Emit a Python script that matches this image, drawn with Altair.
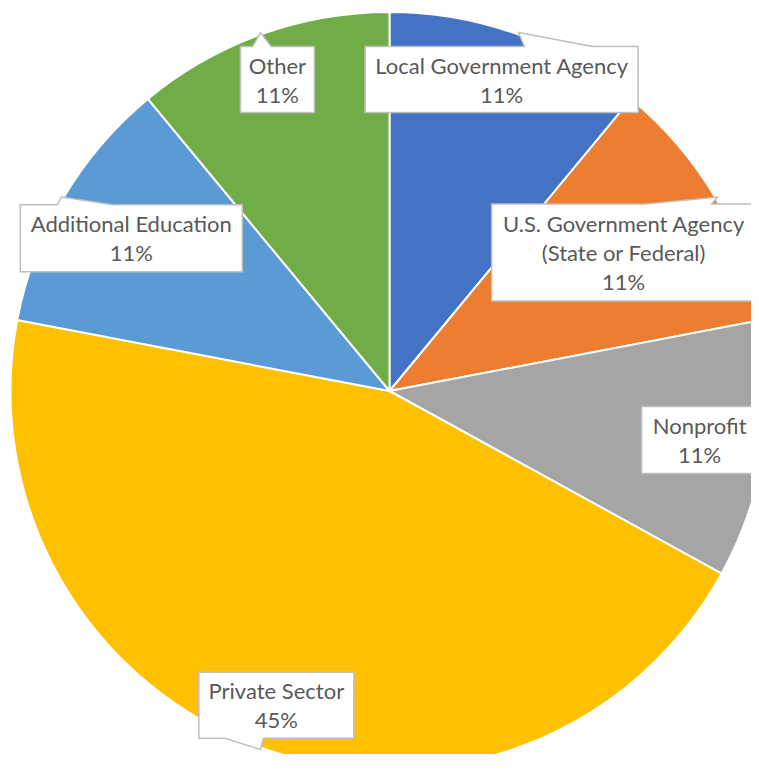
import altair as alt
import pandas as pd

# data
categories = ["Local Government Agency", "U.S. Government Agency\n(State or Federal)",
              "Nonprofit", "Private Sector", "Additional Education", "Other"]
values = [11, 11, 11, 45, 11, 11]

# style / layout
colors = ["#4472C4", "#ED7D31", "#A5A5A5", "#FFC000", "#5B9BD5", "#70AD47"]
label_radius = [331, 272, 314, 334, 300, 331]
box_w = [273, 264, 116, 155, 222, 74]
box_h = [66, 97, 67, 66, 67, 66]

CX, CY, R = 381.5, 383, 379
TIP_R = 381
LINE_H = 29

df = pd.DataFrame({
    "category": categories,
    "value": values,
    "order": list(range(len(categories))),
    "lr": label_radius,
    "bw": box_w,
    "bh": box_h,
})

base = alt.Chart(df)

pie = base.mark_arc(radius=R, stroke="white", strokeWidth=2).encode(
    theta=alt.Theta("value:Q", stack=True),
    color=alt.Color("category:N", scale=alt.Scale(domain=categories, range=colors), legend=None),
    order=alt.Order("order:Q"),
    x=alt.value(CX),
    y=alt.value(CY),
)

lab = base.transform_window(
    cum="sum(value)", sort=[alt.SortField("order")]
).transform_joinaggregate(
    total="sum(value)"
).transform_calculate(
    mid="(datum.cum - datum.value/2) / datum.total * 2 * PI",
).transform_calculate(
    px=f"{CX} + datum.lr * sin(datum.mid)",
    py=f"{CY} - datum.lr * cos(datum.mid)",
    tx=f"{CX} + {TIP_R} * sin(datum.mid)",
    ty=f"{CY} - {TIP_R} * cos(datum.mid)",
    txt="datum.category + '\\n' + datum.value + '%'",
).transform_calculate(
    dx="datum.tx - datum.px",
    dy="datum.ty - datum.py",
    L="-datum.bw/2", Rr="datum.bw/2", T="-datum.bh/2", B="datum.bh/2",
    nl="length(split(datum.txt, '\\n'))",
).transform_calculate(
    vert="abs(datum.dy) > abs(datum.dx * datum.bh / datum.bw)",
    xa="-datum.bw/2 + datum.bw * (datum.dx > 0 ? 7 : 2) / 12",
    xb="-datum.bw/2 + datum.bw * (datum.dx > 0 ? 10 : 5) / 12",
    ya="-datum.bh/2 + datum.bh * (datum.dy > 0 ? 7 : 2) / 12",
    yb="-datum.bh/2 + datum.bh * (datum.dy > 0 ? 10 : 5) / 12",
    texty=f"datum.py - (datum.nl - 1) * {LINE_H} / 2 + 1.5",
).transform_calculate(
    P="'M' + datum.L + ',' + datum.T",
    tip="' L' + datum.dx + ',' + datum.dy",
).transform_calculate(
    path=(
        "datum.vert ? (datum.dy < 0 ? "
        "(datum.P + ' L' + datum.xa + ',' + datum.T + datum.tip + ' L' + datum.xb + ',' + datum.T"
        " + ' L' + datum.Rr + ',' + datum.T + ' L' + datum.Rr + ',' + datum.B + ' L' + datum.L + ',' + datum.B + ' Z')"
        " : "
        "(datum.P + ' L' + datum.Rr + ',' + datum.T + ' L' + datum.Rr + ',' + datum.B + ' L' + datum.xb + ',' + datum.B"
        " + datum.tip + ' L' + datum.xa + ',' + datum.B + ' L' + datum.L + ',' + datum.B + ' Z')"
        ") : (datum.dx > 0 ? "
        "(datum.P + ' L' + datum.Rr + ',' + datum.T + ' L' + datum.Rr + ',' + datum.ya + datum.tip"
        " + ' L' + datum.Rr + ',' + datum.yb + ' L' + datum.Rr + ',' + datum.B + ' L' + datum.L + ',' + datum.B + ' Z')"
        " : "
        "(datum.P + ' L' + datum.Rr + ',' + datum.T + ' L' + datum.Rr + ',' + datum.B + ' L' + datum.L + ',' + datum.B"
        " + ' L' + datum.L + ',' + datum.yb + datum.tip + ' L' + datum.L + ',' + datum.ya + ' Z'))"
    )
)

boxes = lab.mark_point(
    filled=True, fill="white", stroke="#BFBFBF", strokeWidth=1.5, size=4, opacity=1,
    strokeJoin="miter",
).encode(
    x=alt.X("px:Q", scale=None),
    y=alt.Y("py:Q", scale=None),
    shape=alt.Shape("path:N", scale=None),
)

texts = lab.mark_text(
    font="Lato", fontSize=22, color="#595959", lineBreak="\n", lineHeight=LINE_H,
    align="center", baseline="middle",
).encode(
    x=alt.X("px:Q", scale=None),
    y=alt.Y("texty:Q", scale=None),
    text="txt:N",
)

chart = alt.layer(pie, boxes, texts).properties(
    width=743, height=746, autosize=alt.AutoSizeParams(type="none"), padding=0,
).configure_view(stroke=None)

chart.save("out.html", embed_options={"renderer": "svg", "actions": False})
